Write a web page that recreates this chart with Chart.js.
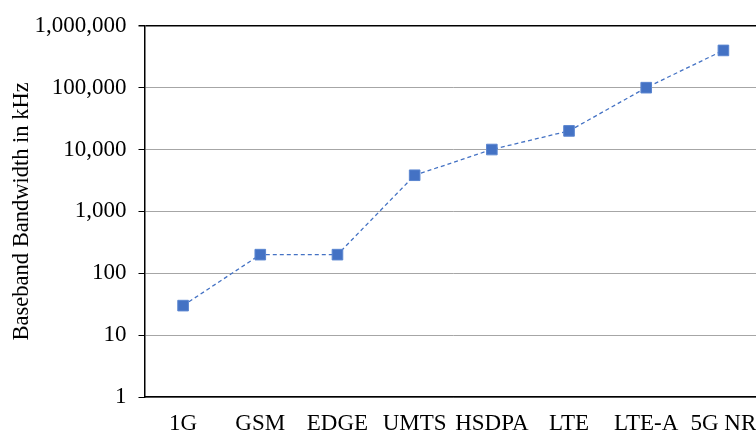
<!DOCTYPE html>
<html>
<head>
<meta charset="utf-8">
<script src="https://cdn.jsdelivr.net/npm/chart.js@4/dist/chart.umd.min.js"></script>
<style>
  html, body { margin: 0; padding: 0; background: #fff; overflow: hidden; }
  #wrap { width: 780px; height: 452px; }
</style>
</head>
<body>
<div id="wrap"><canvas id="bwChart"></canvas></div>
<script>
const generations = ['1G', 'GSM', 'EDGE', 'UMTS', 'HSDPA', 'LTE', 'LTE-A', '5G NR'];
const bandwidthKHz = [30, 200, 200, 3840, 10000, 20000, 100000, 400000];
const yTickValues = [1, 10, 100, 1000, 10000, 100000, 1000000];
const yTitle = 'Baseband Bandwidth in kHz';

const blue = '#4472C4';
const serif = "'Liberation Serif', 'Times New Roman', serif";

const ctx = document.getElementById('bwChart').getContext('2d');
const bwChart = new Chart(ctx, {
    type: 'line',
    data: {
        labels: generations,
        datasets: [{
            data: bandwidthKHz,
            borderColor: blue,
            borderWidth: 1.3,
            borderDash: [4, 3],
            pointStyle: 'rect',
            pointRadius: 7.5,
            pointBackgroundColor: blue,
            pointBorderColor: '#5b86d0',
            pointBorderWidth: 1,
            fill: false,
            tension: 0,
        }],
    },
    options: {
        responsive: true,
        maintainAspectRatio: false,
        animation: false,
        layout: { padding: { left: 0, right: 18, top: 23, bottom: 1.4 } },
        plugins: {
            legend: { display: false },
            tooltip: { enabled: false },
        },
        scales: {
            x: {
                offset: true,
                grid: { display: false, drawTicks: false },
                border: { color: '#000', width: 1.5 },
                ticks: {
                    color: '#000',
                    padding: 13,
                    maxRotation: 0,
                    autoSkip: false,
                    font: { family: serif, size: 23 },
                },
            },
            y: {
                type: 'logarithmic',
                min: 1,
                max: 1000000,
                afterBuildTicks: (scale) => {
                    scale.ticks = yTickValues.map(v => ({ value: v }));
                },
                border: { color: '#000', width: 1.5 },
                grid: {
                    color: (c) => (c.tick && c.tick.value === 1000000 ? '#000' : '#a6a6a6'),
                    lineWidth: (c) => (c.tick && c.tick.value === 1000000 ? 1.5 : 1),
                    tickColor: '#000',
                    tickLength: 6,
                },
                ticks: {
                    color: '#000',
                    padding: 12,
                    font: { family: serif, size: 23 },
                    callback: (v) => Number(v).toLocaleString('en-US'),
                },
                title: {
                    display: true,
                    text: yTitle,
                    color: '#000',
                    font: { family: serif, size: 22.5, lineHeight: 1 },
                    // chart.js reserves twice the tick padding, so pull the title box in
                    padding: { top: 10.5, bottom: -10.5 },
                },
            },
        },
    },
});
</script>
</body>
</html>
